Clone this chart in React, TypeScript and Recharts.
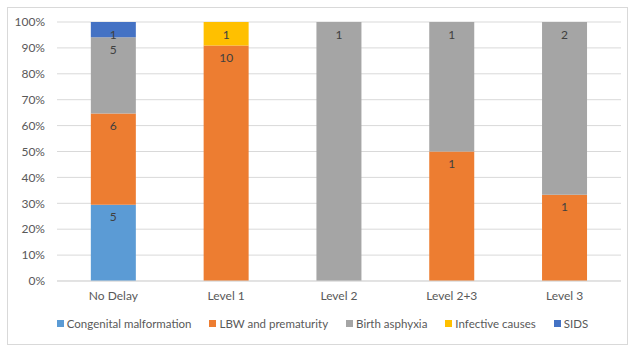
import { Bar, BarChart, CartesianGrid, LabelList, Legend, XAxis, YAxis } from "recharts";

const categories = ["No Delay", "Level 1", "Level 2", "Level 2+3", "Level 3"];
const congenital = [5, 0, 0, 0, 0];
const lbw = [6, 10, 0, 1, 1];
const asphyxia = [5, 0, 1, 1, 2];
const infective = [0, 1, 0, 0, 0];
const sids = [1, 0, 0, 0, 0];
const yTicks = [0, 0.1, 0.2, 0.3, 0.4, 0.5, 0.6, 0.7, 0.8, 0.9, 1];

const SERIES = [
  { key: "cm", name: "Congenital malformation", color: "#5B9BD5", values: congenital },
  { key: "lbw", name: "LBW and prematurity", color: "#ED7D31", values: lbw },
  { key: "ba", name: "Birth asphyxia", color: "#A5A5A5", values: asphyxia },
  { key: "ic", name: "Infective causes", color: "#FFC000", values: infective },
  { key: "sids", name: "SIDS", color: "#4472C4", values: sids },
];

const data = categories.map((c, i) => {
  const row: Record<string, string | number> = { name: c };
  SERIES.forEach((s) => {
    row[s.key] = s.values[i];
  });
  return row;
});

const FONT = "Lato, 'Open Sans', sans-serif";

function LegendRow() {
  return (
    <div
      style={{
        display: "flex",
        justifyContent: "center",
        gap: 18,
        fontSize: 11.5,
        color: "#595959",
        fontFamily: FONT,
        paddingLeft: 16,
        paddingTop: 6,
      }}
    >
      {SERIES.map((s) => (
        <span key={s.key} style={{ display: "flex", alignItems: "center", gap: 3 }}>
          <span style={{ width: 7, height: 7, background: s.color, display: "inline-block" }} />
          {s.name}
        </span>
      ))}
    </div>
  );
}

export default function App() {
  return (
    <div
      style={{
        position: "absolute",
        left: 7,
        top: 7,
        width: 619,
        height: 336,
        border: "1px solid #d9d9d9",
        background: "#fff",
      }}
    >
      <BarChart
        width={619}
        height={336}
        data={data}
        stackOffset="expand"
        barCategoryGap="30%"
        margin={{ top: 14, right: 6, left: 0, bottom: 0 }}
        style={{ fontFamily: FONT }}
      >
        <CartesianGrid vertical={false} stroke="#d9d9d9" />
        <XAxis
          dataKey="name"
          height={30}
          tickLine={false}
          tickSize={0}
          tickMargin={10}
          axisLine={{ stroke: "#d9d9d9" }}
          tick={{ fontSize: 12, fill: "#595959" }}
        />
        <YAxis
          width={49}
          ticks={yTicks}
          domain={[0, 1]}
          tickFormatter={(v: number) => `${Math.round(v * 100)}%`}
          tickLine={false}
          tickSize={0}
          tickMargin={12}
          axisLine={false}
          tick={{ fontSize: 12, fill: "#595959" }}
        />
        <Legend verticalAlign="bottom" height={33} content={() => <LegendRow />} />
        {SERIES.map((s) => (
          <Bar key={s.key} dataKey={s.key} name={s.name} stackId="a" fill={s.color} isAnimationActive={false}>
            <LabelList
              dataKey={s.key}
              position="insideTop"
              offset={8}
              fill="#404040"
              fontSize={12}
              formatter={(v: any) => (v ? v : "")}
            />
          </Bar>
        ))}
      </BarChart>
    </div>
  );
}
